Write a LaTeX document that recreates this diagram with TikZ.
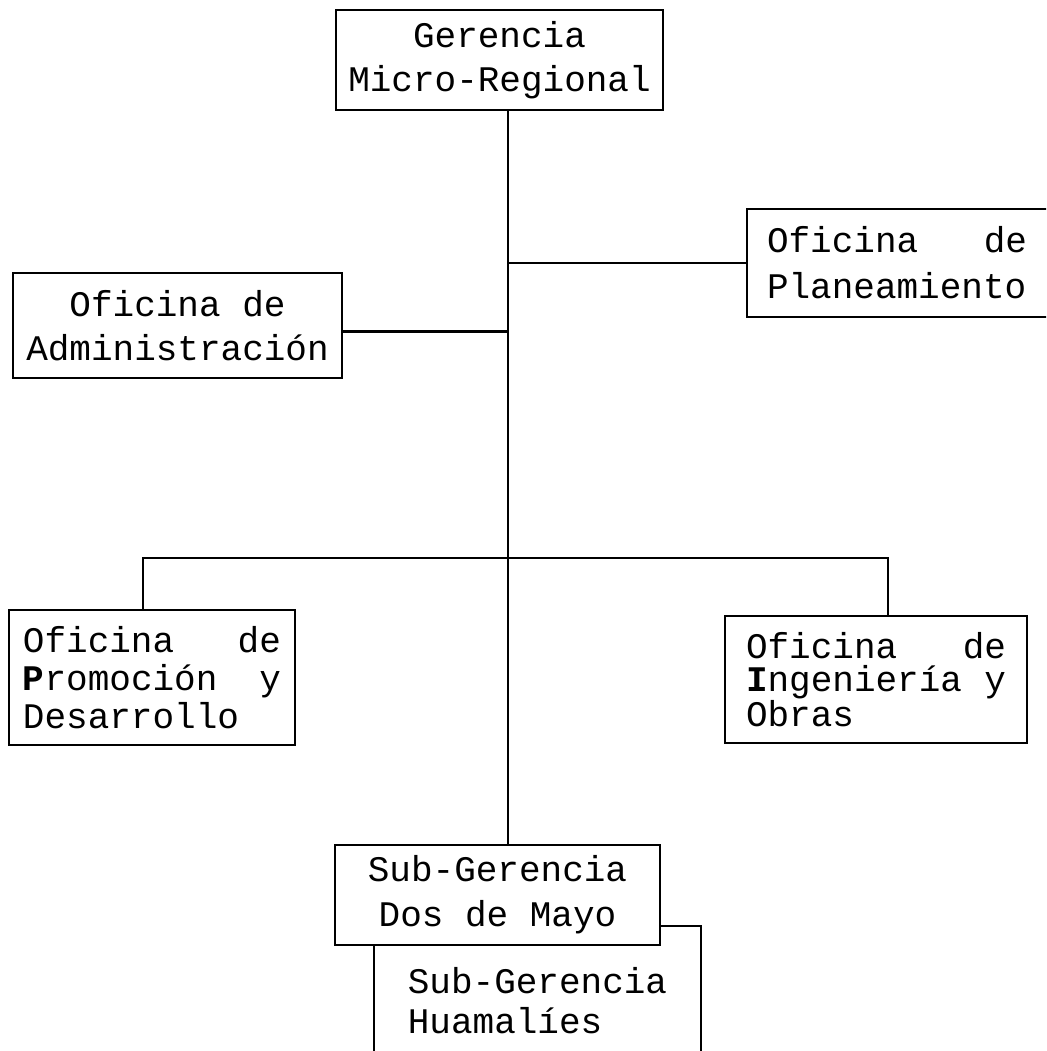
\documentclass[tikz,border=0pt]{standalone}
\usepackage{fontspec}
\setmonofont{Liberation Mono}
\begin{document}
\begin{tikzpicture}[x=0.5pt,y=-0.5pt,
  box/.style={draw, line width=1.1pt, inner sep=0pt, font=\ttfamily\fontsize{18}{22}\selectfont},
  openbox/.style={box, draw=none},
  link/.style={line width=1.1pt}]
\useasboundingbox[fill=white] (0,0) rectangle (1046,1051);
\clip (0,0) rectangle (1046,1051);
\coordinate (trunk) at (508,0);
\coordinate (bus) at (508,558);
\node[box, minimum width=163.5pt, minimum height=50pt, align=center] (ger) at (499.5,60)
  {Gerencia\\Micro-Regional};
\node[openbox, minimum width=149pt, minimum height=53pt, text width=130pt, align=left,
  font=\ttfamily\fontsize{18}{23}\selectfont] (plan) at (897,263)
  {Oficina\hfill de\\Planeamiento};
\node[box, minimum width=164.5pt, minimum height=52.5pt, align=center] (adm) at (177.5,325.5)
  {Oficina de\\Administración};
\node[box, minimum width=143pt, minimum height=67.5pt, text width=129pt, align=left,
  font=\ttfamily\fontsize{18}{19}\selectfont] (prom) at (152,677.5)
  {Oficina\hfill de\\\textbf{P}romoción\hfill y\\Desarrollo};
\node[box, minimum width=151pt, minimum height=63.5pt, text width=130pt, align=left,
  font=\ttfamily\fontsize{18}{16.5}\selectfont] (ing) at (876,679.5)
  {Oficina\hfill de\\\textbf{I}ngeniería\hfill y\\Obras};
\node[openbox, minimum width=162.5pt, minimum height=74pt, align=left,
  font=\ttfamily\fontsize{18}{20}\selectfont] (huam) at (537.5,1001)
  {Sub-Gerencia\\Huamalíes};
\node[box, fill=white, minimum width=162.5pt, minimum height=50pt, align=center,
  font=\ttfamily\fontsize{18}{22.5}\selectfont] (dos) at (497.5,895)
  {Sub-Gerencia\\Dos de Mayo};
% open boxes
\draw[link] (plan.north east) -- (plan.north west) -- (plan.south west) -- (plan.south east);
\draw[link] (dos.east |- huam.north) -- (huam.north east) -- (huam.south east);
\draw[link] (huam.west |- dos.south) -- (huam.south west);
% connectors
\draw[link] (ger.south -| trunk) -- (dos.north -| trunk);
\draw[link] (trunk |- plan.west) -- (plan.west);
\draw[link] ([yshift=-3pt]adm.east) -- ([yshift=-3pt]adm.east -| trunk);
\draw[link] ([xshift=-4.5pt]prom.north) |- (bus) -| ([xshift=6pt]ing.north);
\end{tikzpicture}
\end{document}
